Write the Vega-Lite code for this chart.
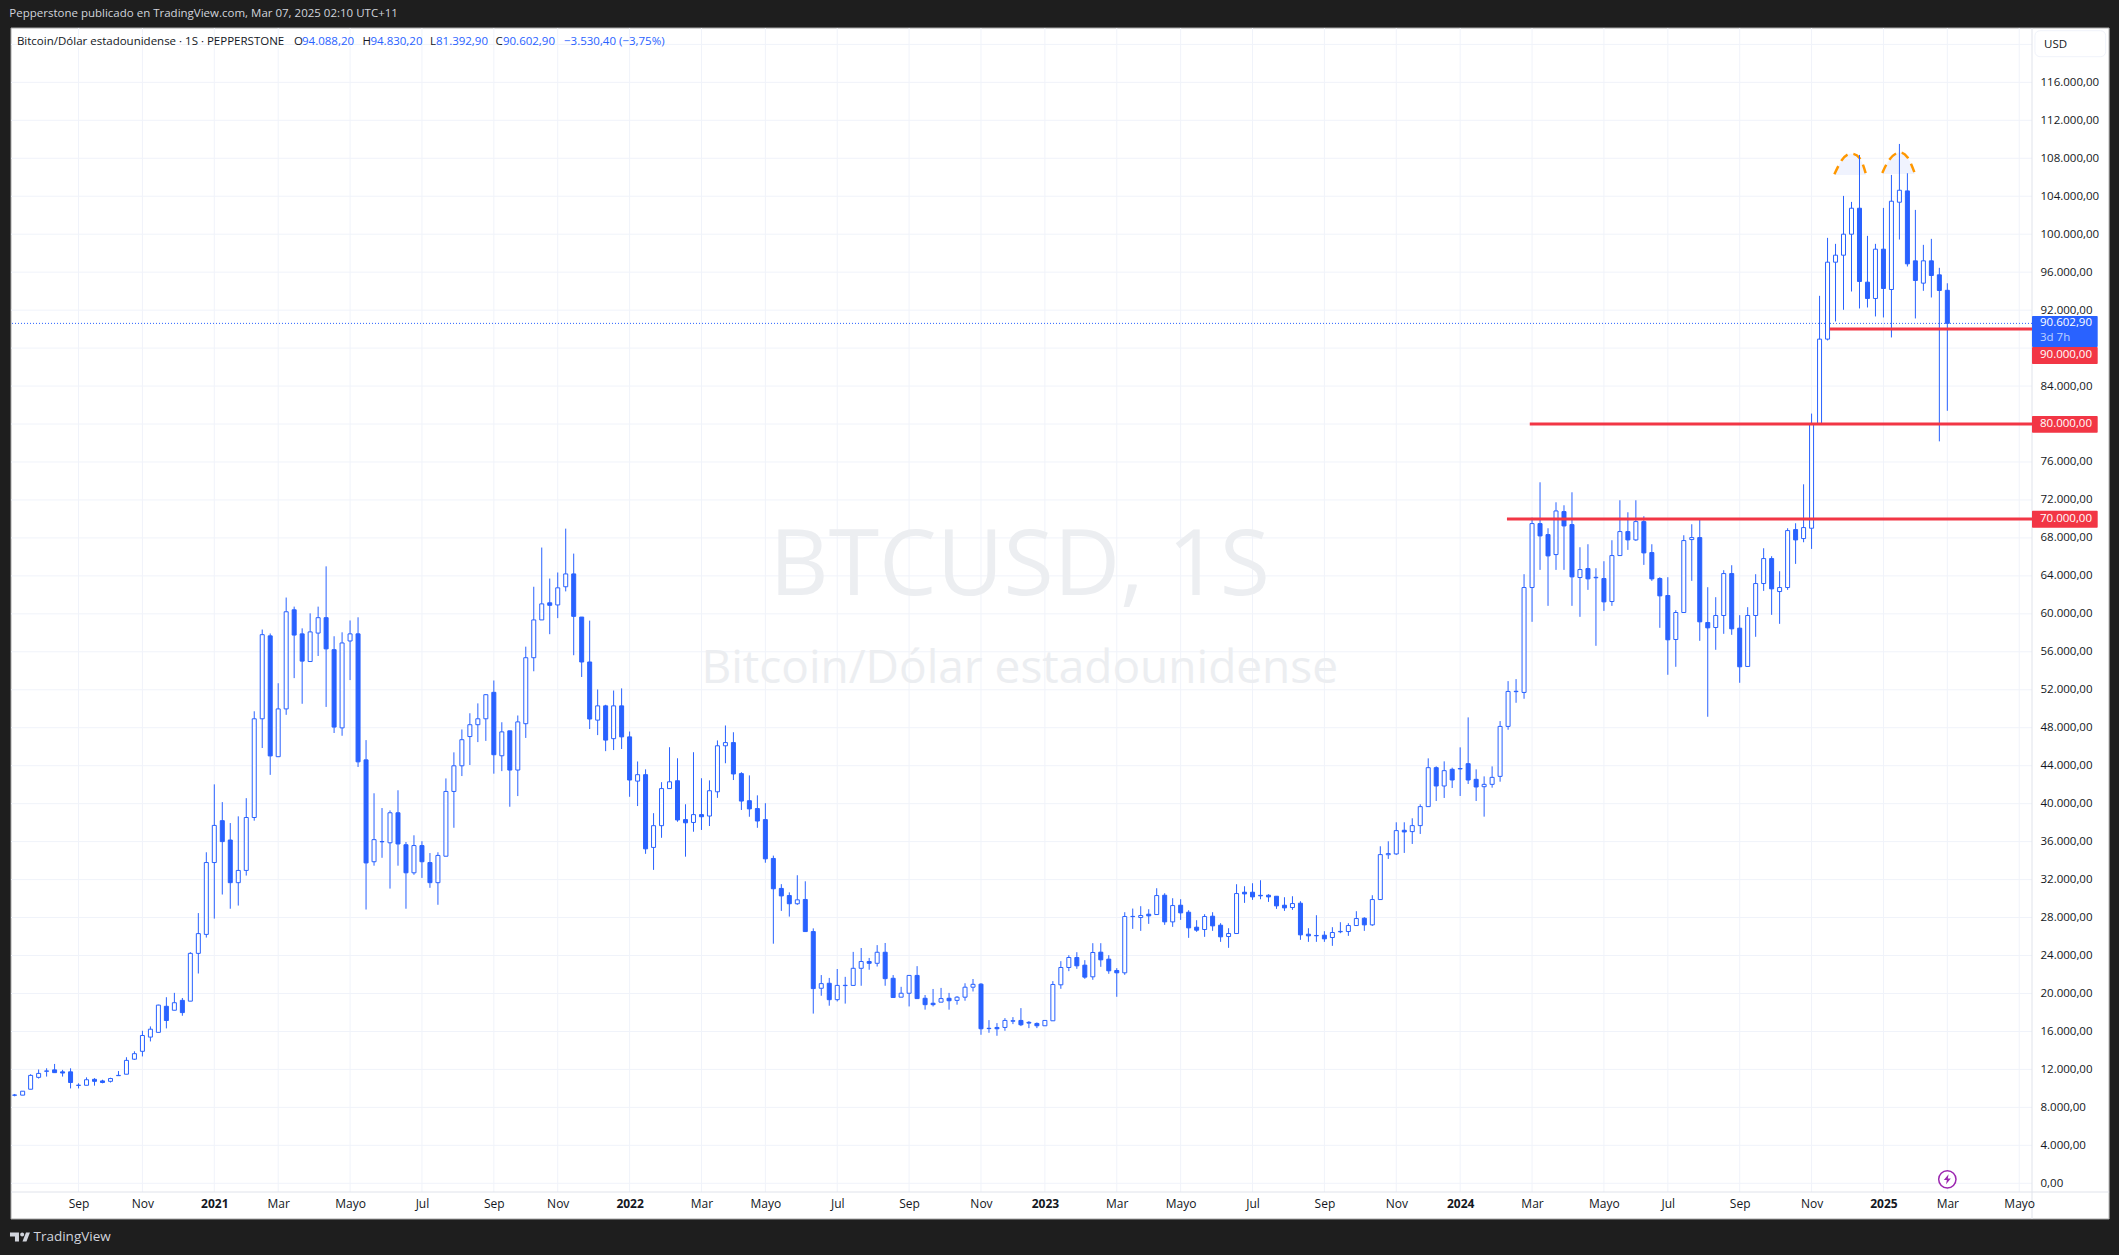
{"$schema":"https://vega.github.io/schema/vega-lite/v6.json","width":2021,"height":1164,"autosize":"none","padding":{"left":11,"top":28,"right":87,"bottom":63},"background":"#1e1e1e","config":{"view":{"stroke":null},"font":"Open Sans","scale":{"continuousPadding":0}},
"datasets":{"candles":[
{"d":"2020-07-13","o":9280,"h":9413,"l":9163,"c":9300},{"d":"2020-07-20","o":9288,"h":9704,"l":9288,"c":9704},{"d":"2020-07-27","o":9912,"h":11493,"l":9912,"c":11369},{"d":"2020-08-03","o":11161,"h":11993,"l":11036,"c":11577},{"d":"2020-08-10","o":11800,"h":12118,"l":11244,"c":11840},{"d":"2020-08-17","o":11951,"h":12575,"l":11660,"c":11660},{"d":"2020-08-24","o":11743,"h":11951,"l":11244,"c":11618},{"d":"2020-08-31","o":11743,"h":12118,"l":9995,"c":10620},{"d":"2020-09-07","o":10310,"h":10536,"l":9995,"c":10340},{"d":"2020-09-14","o":10328,"h":11161,"l":10328,"c":10911},{"d":"2020-09-21","o":10953,"h":11077,"l":10287,"c":10744},{"d":"2020-09-28","o":10786,"h":10911,"l":10536,"c":10620},{"d":"2020-10-05","o":10744,"h":11119,"l":10620,"c":11036},{"d":"2020-10-12","o":11340,"h":11826,"l":11340,"c":11370},{"d":"2020-10-19","o":11493,"h":13283,"l":11493,"c":12950},{"d":"2020-10-26","o":13075,"h":13907,"l":12992,"c":13657},{"d":"2020-11-02","o":13907,"h":16071,"l":13366,"c":15571},{"d":"2020-11-09","o":15405,"h":16528,"l":14947,"c":16237},{"d":"2020-11-16","o":15904,"h":18817,"l":15904,"c":18775},{"d":"2020-11-23","o":18650,"h":19607,"l":16320,"c":17152},{"d":"2020-11-30","o":18234,"h":20065,"l":18234,"c":19025},{"d":"2020-12-07","o":19275,"h":19524,"l":17652,"c":17985},{"d":"2020-12-14","o":19191,"h":24351,"l":19191,"c":24226},{"d":"2020-12-21","o":24226,"h":28470,"l":22104,"c":26307},{"d":"2020-12-28","o":26224,"h":34878,"l":25891,"c":33796},
{"d":"2021-01-04","o":33796,"h":42035,"l":27888,"c":37708},{"d":"2021-01-11","o":38207,"h":40162,"l":30426,"c":36002},{"d":"2021-01-18","o":36169,"h":37957,"l":28928,"c":31674},{"d":"2021-01-25","o":31674,"h":38665,"l":29261,"c":32965},{"d":"2021-02-01","o":32965,"h":40579,"l":32423,"c":38540},{"d":"2021-02-08","o":38540,"h":49733,"l":38207,"c":48942},{"d":"2021-02-15","o":48942,"h":58346,"l":45863,"c":57805},{"d":"2021-02-22","o":57680,"h":57930,"l":43034,"c":45031},{"d":"2021-03-01","o":44948,"h":52687,"l":44948,"c":49983},{"d":"2021-03-08","o":49983,"h":61717,"l":49358,"c":60219},{"d":"2021-03-15","o":60427,"h":60760,"l":53228,"c":57764},{"d":"2021-03-22","o":57889,"h":58471,"l":50524,"c":55018},{"d":"2021-03-29","o":54976,"h":60052,"l":54976,"c":58097},{"d":"2021-04-05","o":57972,"h":60760,"l":55558,"c":59595},{"d":"2021-04-12","o":59595,"h":65004,"l":50191,"c":56307},{"d":"2021-04-19","o":56224,"h":57639,"l":47444,"c":48069},{"d":"2021-04-26","o":47985,"h":58055,"l":47153,"c":56931},{"d":"2021-05-03","o":57140,"h":59303,"l":53020,"c":57889},{"d":"2021-05-10","o":57889,"h":59636,"l":43866,"c":44406},{"d":"2021-05-17","o":44614,"h":46696,"l":28845,"c":33755},{"d":"2021-05-24","o":33880,"h":41095,"l":33463,"c":36210},{"d":"2021-05-31","o":35980,"h":39538,"l":34295,"c":36010},{"d":"2021-06-07","o":35877,"h":39288,"l":31050,"c":39039},{"d":"2021-06-14","o":39039,"h":41411,"l":33463,"c":35752},{"d":"2021-06-21","o":35669,"h":35960,"l":28928,"c":32714},{"d":"2021-06-28","o":32714,"h":36668,"l":32506,"c":35586},{"d":"2021-07-05","o":35586,"h":36043,"l":32174,"c":33880},{"d":"2021-07-12","o":33796,"h":34795,"l":31132,"c":31674},{"d":"2021-07-19","o":31674,"h":34878,"l":29344,"c":34546},{"d":"2021-07-26","o":34462,"h":42659,"l":34462,"c":41286},{"d":"2021-08-02","o":41286,"h":45406,"l":37458,"c":43990},{"d":"2021-08-09","o":43990,"h":47819,"l":42909,"c":46737},{"d":"2021-08-16","o":47070,"h":49525,"l":44074,"c":48318},{"d":"2021-08-23","o":48318,"h":50565,"l":46487,"c":48942},{"d":"2021-08-30","o":48942,"h":51540,"l":46612,"c":51480},{"d":"2021-09-06","o":51730,"h":52978,"l":43158,"c":45156},{"d":"2021-09-13","o":45045,"h":48576,"l":43429,"c":47562},{"d":"2021-09-20","o":47675,"h":47675,"l":39673,"c":43542},{"d":"2021-09-27","o":43542,"h":49290,"l":40799,"c":48614},{"d":"2021-10-04","o":48426,"h":56541,"l":46923,"c":55377},{"d":"2021-10-11","o":55377,"h":62853,"l":53949,"c":59359},{"d":"2021-10-18","o":59359,"h":66986,"l":59359,"c":61049},{"d":"2021-10-25","o":61162,"h":63717,"l":57856,"c":60899},{"d":"2021-11-01","o":60937,"h":64356,"l":59547,"c":62740},{"d":"2021-11-08","o":62853,"h":68977,"l":62365,"c":64206},{"d":"2021-11-15","o":64206,"h":66347,"l":55640,"c":59735},{"d":"2021-11-22","o":59660,"h":59660,"l":53347,"c":54926},{"d":"2021-11-29","o":54926,"h":59284,"l":47862,"c":48915},{"d":"2021-12-06","o":48802,"h":52033,"l":47224,"c":50304},{"d":"2021-12-13","o":50304,"h":50417,"l":45533,"c":46698},{"d":"2021-12-20","o":46848,"h":51920,"l":45646,"c":50304},{"d":"2021-12-27","o":50304,"h":52146,"l":45759,"c":47036},
{"d":"2022-01-03","o":47036,"h":47600,"l":40724,"c":42490},{"d":"2022-01-10","o":42377,"h":44444,"l":39748,"c":43054},{"d":"2022-01-17","o":43054,"h":43617,"l":34713,"c":35239},{"d":"2022-01-24","o":35389,"h":38996,"l":33022,"c":37680},{"d":"2022-01-31","o":37680,"h":42265,"l":36403,"c":41588},{"d":"2022-02-07","o":41588,"h":45946,"l":41588,"c":42302},{"d":"2022-02-14","o":42415,"h":44782,"l":38094,"c":38282},{"d":"2022-02-21","o":38320,"h":39935,"l":34413,"c":37982},{"d":"2022-02-28","o":38019,"h":45421,"l":37043,"c":38846},{"d":"2022-03-07","o":38846,"h":42678,"l":37231,"c":38621},{"d":"2022-03-14","o":38696,"h":42452,"l":37644,"c":41363},{"d":"2022-03-21","o":41251,"h":46660,"l":40612,"c":46097},{"d":"2022-03-28","o":46097,"h":48238,"l":44256,"c":46435},{"d":"2022-04-04","o":46435,"h":47524,"l":42490,"c":43129},{"d":"2022-04-11","o":43166,"h":43317,"l":39334,"c":40274},{"d":"2022-04-18","o":40311,"h":42978,"l":38620,"c":39448},{"d":"2022-04-25","o":39484,"h":40875,"l":37456,"c":38170},{"d":"2022-05-02","o":38320,"h":40047,"l":33774,"c":34187},{"d":"2022-05-09","o":34225,"h":34525,"l":25245,"c":31032},{"d":"2022-05-16","o":31069,"h":31520,"l":28701,"c":30280},{"d":"2022-05-23","o":30317,"h":30656,"l":28100,"c":29453},{"d":"2022-05-30","o":29453,"h":32458,"l":29340,"c":29867},{"d":"2022-06-06","o":29904,"h":31820,"l":26523,"c":26523},{"d":"2022-06-13","o":26523,"h":26860,"l":17882,"c":20513},{"d":"2022-06-20","o":20549,"h":21939,"l":19760,"c":21037},{"d":"2022-06-27","o":21075,"h":21639,"l":18709,"c":19347},{"d":"2022-07-04","o":19347,"h":22578,"l":19160,"c":20849},{"d":"2022-07-11","o":20830,"h":21751,"l":18933,"c":20860},{"d":"2022-07-18","o":20849,"h":24381,"l":20849,"c":22653},{"d":"2022-07-25","o":22653,"h":24793,"l":20812,"c":23367},{"d":"2022-08-01","o":23367,"h":23743,"l":22503,"c":23179},{"d":"2022-08-08","o":23179,"h":25096,"l":22840,"c":24343},{"d":"2022-08-15","o":24343,"h":25320,"l":20812,"c":21563},{"d":"2022-08-22","o":21600,"h":21939,"l":19573,"c":19573},{"d":"2022-08-29","o":19610,"h":20700,"l":19610,"c":20023},{"d":"2022-09-05","o":20023,"h":21902,"l":18633,"c":21902},{"d":"2022-09-12","o":21902,"h":22880,"l":19460,"c":19460},{"d":"2022-09-19","o":19497,"h":19835,"l":18295,"c":18821},{"d":"2022-09-26","o":18971,"h":20474,"l":18633,"c":18821},{"d":"2022-10-03","o":19084,"h":20587,"l":19084,"c":19460},{"d":"2022-10-10","o":19497,"h":20061,"l":18295,"c":19234},{"d":"2022-10-17","o":19272,"h":19723,"l":18821,"c":19610},{"d":"2022-10-24","o":19610,"h":21077,"l":19234,"c":20662},{"d":"2022-10-31","o":20662,"h":21525,"l":20211,"c":20963},{"d":"2022-11-07","o":20983,"h":21088,"l":15649,"c":16281},{"d":"2022-11-14","o":16300,"h":17193,"l":15860,"c":16330},{"d":"2022-11-21","o":16421,"h":16878,"l":15544,"c":16281},{"d":"2022-11-28","o":16421,"h":17404,"l":16070,"c":17158},{"d":"2022-12-05","o":17080,"h":17509,"l":16772,"c":17130},{"d":"2022-12-12","o":17158,"h":18457,"l":16562,"c":16702},{"d":"2022-12-19","o":16960,"h":17088,"l":16351,"c":16880},{"d":"2022-12-26","o":16842,"h":16948,"l":16351,"c":16597},
{"d":"2023-01-02","o":16597,"h":17158,"l":16597,"c":17158},{"d":"2023-01-09","o":17123,"h":21299,"l":17123,"c":20948},{"d":"2023-01-16","o":20913,"h":23404,"l":20492,"c":22738},{"d":"2023-01-23","o":22738,"h":24036,"l":22352,"c":23790},{"d":"2023-01-30","o":23790,"h":24352,"l":22597,"c":22913},{"d":"2023-02-06","o":22983,"h":23510,"l":21544,"c":21720},{"d":"2023-02-13","o":21755,"h":25299,"l":21439,"c":24317},{"d":"2023-02-20","o":24352,"h":25299,"l":22808,"c":23545},{"d":"2023-02-27","o":23615,"h":24036,"l":22071,"c":22387},{"d":"2023-03-06","o":22422,"h":22668,"l":19650,"c":22176},{"d":"2023-03-13","o":22176,"h":28562,"l":21966,"c":28106},{"d":"2023-03-20","o":28100,"h":28948,"l":26808,"c":28120},{"d":"2023-03-27","o":28001,"h":29194,"l":26597,"c":28212},{"d":"2023-04-03","o":28352,"h":28878,"l":27334,"c":28176},{"d":"2023-04-10","o":28317,"h":31089,"l":28317,"c":30317},{"d":"2023-04-17","o":30352,"h":30563,"l":27229,"c":27545},{"d":"2023-04-24","o":27545,"h":30036,"l":27019,"c":29264},{"d":"2023-05-01","o":29299,"h":29931,"l":27755,"c":28492},{"d":"2023-05-08","o":28562,"h":28773,"l":25861,"c":26913},{"d":"2023-05-15","o":26983,"h":27720,"l":26492,"c":26668},{"d":"2023-05-22","o":26738,"h":28352,"l":25966,"c":28106},{"d":"2023-05-29","o":28141,"h":28562,"l":26597,"c":27124},{"d":"2023-06-05","o":27194,"h":27405,"l":25439,"c":25966},{"d":"2023-06-12","o":26001,"h":26878,"l":24808,"c":26317},{"d":"2023-06-19","o":26317,"h":31510,"l":26317,"c":30528},{"d":"2023-06-26","o":30668,"h":31300,"l":29545,"c":30492},{"d":"2023-07-03","o":30668,"h":31615,"l":29861,"c":30177},{"d":"2023-07-10","o":30340,"h":31931,"l":29931,"c":30290},{"d":"2023-07-17","o":30352,"h":30457,"l":29650,"c":30177},{"d":"2023-07-24","o":30247,"h":30247,"l":28913,"c":29229},{"d":"2023-07-31","o":29299,"h":30142,"l":28703,"c":29019},{"d":"2023-08-07","o":29054,"h":30247,"l":28808,"c":29475},{"d":"2023-08-14","o":29510,"h":29720,"l":25650,"c":26176},{"d":"2023-08-21","o":26247,"h":26878,"l":25439,"c":26071},{"d":"2023-08-28","o":26080,"h":28247,"l":25439,"c":26110},{"d":"2023-09-04","o":26141,"h":26562,"l":25439,"c":25755},{"d":"2023-09-11","o":25896,"h":26983,"l":25018,"c":26422},{"d":"2023-09-18","o":26500,"h":27510,"l":26352,"c":26540},{"d":"2023-09-25","o":26527,"h":27405,"l":26071,"c":27159},{"d":"2023-10-02","o":27159,"h":28668,"l":27159,"c":27896},{"d":"2023-10-09","o":27931,"h":28036,"l":26597,"c":27229},{"d":"2023-10-16","o":27229,"h":30352,"l":27124,"c":29896},{"d":"2023-10-23","o":29896,"h":35510,"l":29896,"c":34633},{"d":"2023-10-30","o":34620,"h":36037,"l":34177,"c":34740},{"d":"2023-11-06","o":34703,"h":38037,"l":34598,"c":37160},{"d":"2023-11-13","o":37195,"h":38037,"l":34809,"c":37019},{"d":"2023-11-20","o":37054,"h":38458,"l":35756,"c":37686},{"d":"2023-11-27","o":37686,"h":39932,"l":36809,"c":39686},{"d":"2023-12-04","o":39686,"h":44774,"l":39686,"c":43792},{"d":"2023-12-11","o":43792,"h":43932,"l":40283,"c":41862},{"d":"2023-12-18","o":41862,"h":44458,"l":40598,"c":43476},{"d":"2023-12-25","o":43616,"h":43792,"l":41651,"c":42493},
{"d":"2024-01-01","o":43660,"h":45932,"l":40809,"c":43700},{"d":"2024-01-08","o":44213,"h":49090,"l":42072,"c":42493},{"d":"2024-01-15","o":42563,"h":43616,"l":40283,"c":41756},{"d":"2024-01-22","o":41788,"h":42875,"l":38629,"c":42033},{"d":"2024-01-29","o":42033,"h":43928,"l":41682,"c":42770},{"d":"2024-02-05","o":42875,"h":48700,"l":42314,"c":48139},{"d":"2024-02-12","o":48139,"h":52911,"l":47788,"c":51823},{"d":"2024-02-19","o":51800,"h":53122,"l":50630,"c":51840},{"d":"2024-02-26","o":51718,"h":64175,"l":51051,"c":62771},{"d":"2024-03-04","o":62771,"h":70140,"l":59157,"c":69509},{"d":"2024-03-11","o":69509,"h":73860,"l":64631,"c":68210},{"d":"2024-03-18","o":68351,"h":69017,"l":60841,"c":66105},{"d":"2024-03-25","o":66245,"h":71754,"l":64631,"c":70842},{"d":"2024-04-01","o":70772,"h":71439,"l":64631,"c":69263},{"d":"2024-04-08","o":69403,"h":72807,"l":60841,"c":63894},{"d":"2024-04-15","o":63824,"h":67017,"l":59683,"c":64666},{"d":"2024-04-22","o":64771,"h":67333,"l":62526,"c":63684},{"d":"2024-04-29","o":63800,"h":64807,"l":56631,"c":63850},{"d":"2024-05-06","o":63719,"h":65543,"l":60315,"c":61262},{"d":"2024-05-13","o":61298,"h":67754,"l":60841,"c":66140},{"d":"2024-05-20","o":66140,"h":71965,"l":66140,"c":68667},{"d":"2024-05-27","o":68667,"h":70702,"l":66737,"c":67789},{"d":"2024-06-03","o":67789,"h":71965,"l":67684,"c":69719},{"d":"2024-06-10","o":69719,"h":70281,"l":65157,"c":66421},{"d":"2024-06-17","o":66456,"h":67333,"l":63473,"c":63684},{"d":"2024-06-24","o":63719,"h":63859,"l":58525,"c":61894},{"d":"2024-07-01","o":61929,"h":63859,"l":53578,"c":57262},{"d":"2024-07-08","o":57297,"h":60385,"l":54420,"c":60140},{"d":"2024-07-15","o":60140,"h":68280,"l":60140,"c":67719},{"d":"2024-07-22","o":67824,"h":69438,"l":63473,"c":68035},{"d":"2024-07-29","o":68035,"h":70035,"l":57157,"c":59157},{"d":"2024-08-05","o":59087,"h":62806,"l":49156,"c":58525},{"d":"2024-08-12","o":58561,"h":61754,"l":56210,"c":59824},{"d":"2024-08-19","o":59824,"h":64596,"l":57894,"c":64245},{"d":"2024-08-26","o":64245,"h":65122,"l":57789,"c":58420},{"d":"2024-09-02","o":58490,"h":59859,"l":52736,"c":54420},{"d":"2024-09-09","o":54455,"h":60701,"l":54455,"c":59824},{"d":"2024-09-16","o":59824,"h":64175,"l":57578,"c":63192},{"d":"2024-09-23","o":63192,"h":66912,"l":62420,"c":65824},{"d":"2024-09-30","o":65824,"h":66070,"l":59894,"c":62631},{"d":"2024-10-07","o":62350,"h":64491,"l":58947,"c":62771},{"d":"2024-10-14","o":62771,"h":69017,"l":62526,"c":68772},{"d":"2024-10-21","o":68877,"h":69544,"l":65263,"c":67789},{"d":"2024-10-28","o":67930,"h":73649,"l":67544,"c":69088},{"d":"2024-11-04","o":69020,"h":81100,"l":66841,"c":80000},{"d":"2024-11-11","o":79964,"h":93508,"l":79964,"c":88946},{"d":"2024-11-18","o":88946,"h":99614,"l":88806,"c":97052},{"d":"2024-11-25","o":97052,"h":98982,"l":90806,"c":97789},{"d":"2024-12-02","o":97789,"h":104035,"l":92034,"c":100000},{"d":"2024-12-09","o":100000,"h":103404,"l":93964,"c":102737},{"d":"2024-12-16","o":102737,"h":108351,"l":92175,"c":95017},{"d":"2024-12-23","o":94947,"h":99824,"l":92280,"c":93227},{"d":"2024-12-30","o":93227,"h":98982,"l":91333,"c":98421},
{"d":"2025-01-06","o":98421,"h":102772,"l":91228,"c":94280},{"d":"2025-01-13","o":94175,"h":106246,"l":89122,"c":103474},{"d":"2025-01-20","o":103369,"h":109509,"l":99438,"c":104631},{"d":"2025-01-27","o":104561,"h":106421,"l":96596,"c":96877},{"d":"2025-02-03","o":97193,"h":102561,"l":91122,"c":95122},{"d":"2025-02-10","o":94842,"h":98877,"l":94035,"c":97193},{"d":"2025-02-17","o":97193,"h":99508,"l":93333,"c":95649},{"d":"2025-02-24","o":95719,"h":96456,"l":78174,"c":94070},{"d":"2025-03-03","o":94088.2,"h":94830.2,"l":81392.9,"c":90602.9}
]},
"layer":[
{"data":{"values":[{"a":"2020-07-09T19:12:00Z","b":"2025-07-22T19:00:00Z","p":121726,"q":-3761}]},"mark":{"type":"rect","fill":"#ffffff","stroke":"#a8a8a8","strokeWidth":1},"encoding":{"x":{"field":"a","type":"temporal","scale":{"type":"utc","nice":false,"domain":["2020-07-09T19:12:00Z","2025-05-16T05:00:00Z"]},"axis":{"orient":"bottom","title":null,"grid":false,"domain":false,"ticks":false,"zindex":1,"values":["2020-09-07","2020-11-02","2021-01-04","2021-03-01","2021-05-03","2021-07-05","2021-09-06","2021-11-01","2022-01-03","2022-03-07","2022-05-02","2022-07-04","2022-09-05","2022-11-07","2023-01-02","2023-03-06","2023-05-01","2023-07-03","2023-09-04","2023-11-06","2024-01-01","2024-03-04","2024-05-06","2024-07-01","2024-09-02","2024-11-04","2025-01-06","2025-03-03","2025-05-05"],"labelExpr":"utcmonth(datum.value)==0 ? ''+utcyear(datum.value) : (utcmonth(datum.value)==2 ? 'Mar' : utcmonth(datum.value)==4 ? 'Mayo' : utcmonth(datum.value)==6 ? 'Jul' : utcmonth(datum.value)==8 ? 'Sep' : 'Nov')","labelFontWeight":{"condition":{"test":"utcmonth(datum.value)==0","value":"bold"},"value":"normal"},"labelColor":"#131722","labelFontSize":12,"labelFont":"Open Sans","labelPadding":6,"labelOverlap":false,"labelFlush":false,"labelBound":false}},"x2":{"field":"b"},"y":{"field":"p","type":"quantitative","scale":{"domain":[-917,121726],"nice":false,"zero":false},"axis":{"orient":"right","title":null,"grid":false,"domain":false,"ticks":false,"zindex":1,"values":[0,4000,8000,12000,16000,20000,24000,28000,32000,36000,40000,44000,48000,52000,56000,60000,64000,68000,72000,76000,84000,92000,96000,100000,104000,108000,112000,116000],"labelExpr":"datum.value==0 ? '0,00' : (datum.value/1000)+'.000,00'","labelColor":"#131722","labelFontSize":11.5,"labelFont":"Open Sans","labelPadding":8,"labelOverlap":false,"labelBound":false,"labelFlush":false}},"y2":{"field":"q"}}},
{"data":{"values":[{"p":0},{"p":4000},{"p":8000},{"p":12000},{"p":16000},{"p":20000},{"p":24000},{"p":28000},{"p":32000},{"p":36000},{"p":40000},{"p":44000},{"p":48000},{"p":52000},{"p":56000},{"p":60000},{"p":64000},{"p":68000},{"p":72000},{"p":76000},{"p":80000},{"p":84000},{"p":88000},{"p":92000},{"p":96000},{"p":100000},{"p":104000},{"p":108000},{"p":112000},{"p":116000},{"p":120000}]},"mark":{"type":"rule","color":"#f0f3fa","strokeWidth":1},"encoding":{"y":{"field":"p","type":"quantitative","scale":{"domain":[-917,121726],"nice":false,"zero":false}}}},
{"data":{"values":[{"d":"2020-09-07"},{"d":"2020-11-02"},{"d":"2021-01-04"},{"d":"2021-03-01"},{"d":"2021-05-03"},{"d":"2021-07-05"},{"d":"2021-09-06"},{"d":"2021-11-01"},{"d":"2022-01-03"},{"d":"2022-03-07"},{"d":"2022-05-02"},{"d":"2022-07-04"},{"d":"2022-09-05"},{"d":"2022-11-07"},{"d":"2023-01-02"},{"d":"2023-03-06"},{"d":"2023-05-01"},{"d":"2023-07-03"},{"d":"2023-09-04"},{"d":"2023-11-06"},{"d":"2024-01-01"},{"d":"2024-03-04"},{"d":"2024-05-06"},{"d":"2024-07-01"},{"d":"2024-09-02"},{"d":"2024-11-04"},{"d":"2025-01-06"},{"d":"2025-03-03"},{"d":"2025-05-05"}]},"mark":{"type":"rule","color":"#f0f3fa","strokeWidth":1},"encoding":{"x":{"field":"d","type":"temporal","scale":{"type":"utc","nice":false,"domain":["2020-07-09T19:12:00Z","2025-05-16T05:00:00Z"]}}}},
{"data":{"values":[{"a":"2020-07-09T19:12:00Z","b":"2025-07-22T19:00:00Z","p":-917,"q":-917},{"a":"2025-05-16T05:00:00Z","b":"2025-05-16T05:00:00Z","p":121726,"q":-3761}]},"mark":{"type":"rule","color":"#e0e3eb","strokeWidth":1},"encoding":{"x":{"field":"a","type":"temporal","scale":{"type":"utc","nice":false,"domain":["2020-07-09T19:12:00Z","2025-05-16T05:00:00Z"]}},"x2":{"field":"b"},"y":{"field":"p","type":"quantitative","scale":{"domain":[-917,121726],"nice":false,"zero":false}},"y2":{"field":"q"}}},
{"data":{"values":[{"t":"BTCUSD, 1S","d":"2022-12-11","p":64790}]},"mark":{"type":"text","fontSize":91.5,"color":"#eceef1","align":"center","baseline":"middle"},"encoding":{"text":{"field":"t"},"x":{"field":"d","type":"temporal","scale":{"type":"utc","nice":false,"domain":["2020-07-09T19:12:00Z","2025-05-16T05:00:00Z"]}},"y":{"field":"p","type":"quantitative","scale":{"domain":[-917,121726],"nice":false,"zero":false}}}},
{"data":{"values":[{"t":"Bitcoin/Dólar estadounidense","d":"2022-12-11","p":54200}]},"mark":{"type":"text","fontSize":46,"color":"#eceef1","align":"center","baseline":"middle"},"encoding":{"text":{"field":"t"},"x":{"field":"d","type":"temporal","scale":{"type":"utc","nice":false,"domain":["2020-07-09T19:12:00Z","2025-05-16T05:00:00Z"]}},"y":{"field":"p","type":"quantitative","scale":{"domain":[-917,121726],"nice":false,"zero":false}}}},
{"data":{"values":[{"p":90602.9}]},"mark":{"type":"rule","color":"#2962ff","strokeWidth":1,"strokeDash":[1,2]},"encoding":{"y":{"field":"p","type":"quantitative","scale":{"domain":[-917,121726],"nice":false,"zero":false}}}},
{"data":{"name":"arcs","values":[{"g":"a","d":"2024-11-24","p":106316,"b":106250},{"g":"a","d":"2024-11-30","p":107720,"b":106250},{"g":"a","d":"2024-12-07","p":108456,"b":106250},{"g":"a","d":"2024-12-16","p":108035,"b":106250},{"g":"a","d":"2024-12-22","p":106176,"b":106250},{"g":"b","d":"2025-01-05","p":106456,"b":106350},{"g":"b","d":"2025-01-11","p":107825,"b":106350},{"g":"b","d":"2025-01-19","p":108597,"b":106350},{"g":"b","d":"2025-01-27","p":108106,"b":106350},{"g":"b","d":"2025-02-03","p":106246,"b":106350}]},"mark":{"type":"area","color":"#f0f3fe","interpolate":"natural"},"encoding":{"detail":{"field":"g"},"x":{"field":"d","type":"temporal","scale":{"type":"utc","nice":false,"domain":["2020-07-09T19:12:00Z","2025-05-16T05:00:00Z"]}},"y":{"field":"p","type":"quantitative","scale":{"domain":[-917,121726],"nice":false,"zero":false}},"y2":{"field":"b"}}},
{"data":{"name":"arcs"},"mark":{"type":"line","color":"#ff9800","strokeWidth":2.5,"strokeDash":[9,6],"interpolate":"natural"},"encoding":{"detail":{"field":"g"},"x":{"field":"d","type":"temporal","scale":{"type":"utc","nice":false,"domain":["2020-07-09T19:12:00Z","2025-05-16T05:00:00Z"]}},"y":{"field":"p","type":"quantitative","scale":{"domain":[-917,121726],"nice":false,"zero":false}}}},
{"data":{"name":"candles"},"mark":{"type":"rule","color":"#2962ff","strokeWidth":1},"encoding":{"x":{"field":"d","type":"temporal","scale":{"type":"utc","nice":false,"domain":["2020-07-09T19:12:00Z","2025-05-16T05:00:00Z"]}},"y":{"field":"l","type":"quantitative","scale":{"domain":[-917,121726],"nice":false,"zero":false}},"y2":{"field":"h"}}},
{"data":{"name":"candles"},"mark":{"type":"bar","size":4,"stroke":"#2962ff","strokeWidth":1},"encoding":{"x":{"field":"d","type":"temporal","scale":{"type":"utc","nice":false,"domain":["2020-07-09T19:12:00Z","2025-05-16T05:00:00Z"]}},"y":{"field":"o","type":"quantitative","scale":{"domain":[-917,121726],"nice":false,"zero":false}},"y2":{"field":"c"},"fill":{"condition":{"test":"datum.c>=datum.o","value":"#ffffff"},"value":"#2962ff"}}},
{"data":{"values":[{"a":"2024-02-11","b":"2025-05-16T05:00:00Z","p":70000},{"a":"2024-03-02","b":"2025-05-16T05:00:00Z","p":80000},{"a":"2024-11-20","b":"2025-05-16T05:00:00Z","p":90000}]},"mark":{"type":"rule","color":"#f23645","strokeWidth":3},"encoding":{"x":{"field":"a","type":"temporal","scale":{"type":"utc","nice":false,"domain":["2020-07-09T19:12:00Z","2025-05-16T05:00:00Z"]}},"x2":{"field":"b"},"y":{"field":"p","type":"quantitative","scale":{"domain":[-917,121726],"nice":false,"zero":false}}}},
{"data":{"values":[{"a":"2025-05-16T05:00:00Z","b":"2025-07-12T19:00:00Z","p":88115,"q":86324},{"a":"2025-05-16T05:00:00Z","b":"2025-07-12T19:00:00Z","p":80845,"q":79086},{"a":"2025-05-16T05:00:00Z","b":"2025-07-12T19:00:00Z","p":70867,"q":69076}]},"mark":{"type":"rect","fill":"#f23645","cornerRadius":1},"encoding":{"x":{"field":"a","type":"temporal","scale":{"type":"utc","nice":false,"domain":["2020-07-09T19:12:00Z","2025-05-16T05:00:00Z"]}},"x2":{"field":"b"},"y":{"field":"p","type":"quantitative","scale":{"domain":[-917,121726],"nice":false,"zero":false}},"y2":{"field":"q"}}},
{"data":{"values":[{"a":"2025-05-16T05:00:00Z","b":"2025-07-12T19:00:00Z","p":91381,"q":88115}]},"mark":{"type":"rect","fill":"#2962ff","cornerRadius":1},"encoding":{"x":{"field":"a","type":"temporal","scale":{"type":"utc","nice":false,"domain":["2020-07-09T19:12:00Z","2025-05-16T05:00:00Z"]}},"x2":{"field":"b"},"y":{"field":"p","type":"quantitative","scale":{"domain":[-917,121726],"nice":false,"zero":false}},"y2":{"field":"q"}}},
{"data":{"values":[{"a":"2025-05-18T19:00:00Z","b":"2025-07-19T19:00:00Z","p":121441,"q":118702}]},"mark":{"type":"rect","fill":"#ffffff","stroke":"#f0f3fa","strokeWidth":1,"cornerRadius":5},"encoding":{"x":{"field":"a","type":"temporal","scale":{"type":"utc","nice":false,"domain":["2020-07-09T19:12:00Z","2025-05-16T05:00:00Z"]}},"x2":{"field":"b"},"y":{"field":"p","type":"quantitative","scale":{"domain":[-917,121726],"nice":false,"zero":false}},"y2":{"field":"q"}}},
{"data":{"values":[{"t":"90.602,90","d":"2025-05-23T05:00:00Z","p":90602},{"t":"90.000,00","d":"2025-05-23T05:00:00Z","p":87220},{"t":"80.000,00","d":"2025-05-23T05:00:00Z","p":79960},{"t":"70.000,00","d":"2025-05-23T05:00:00Z","p":69970}]},"mark":{"type":"text","fontSize":11.5,"color":"#ffffff","align":"left","baseline":"middle"},"encoding":{"text":{"field":"t"},"x":{"field":"d","type":"temporal","scale":{"type":"utc","nice":false,"domain":["2020-07-09T19:12:00Z","2025-05-16T05:00:00Z"]}},"y":{"field":"p","type":"quantitative","scale":{"domain":[-917,121726],"nice":false,"zero":false}}}},
{"data":{"values":[{"t":"3d 7h","d":"2025-05-23T05:00:00Z","p":89061}]},"mark":{"type":"text","fontSize":11.5,"color":"#bcd0ff","align":"left","baseline":"middle"},"encoding":{"text":{"field":"t"},"x":{"field":"d","type":"temporal","scale":{"type":"utc","nice":false,"domain":["2020-07-09T19:12:00Z","2025-05-16T05:00:00Z"]}},"y":{"field":"p","type":"quantitative","scale":{"domain":[-917,121726],"nice":false,"zero":false}}}},
{"data":{"values":[{"t":"Bitcoin/Dólar estadounidense · 1S · PEPPERSTONE","d":"2020-07-15","p":120300},{"t":"O","d":"2021-03-14T21:00:00Z","p":120300},{"t":"H","d":"2021-05-13T21:00:00Z","p":120300},{"t":"L","d":"2021-07-12","p":120300},{"t":"C","d":"2021-09-07T12:00:00Z","p":120300},{"t":"USD","d":"2025-05-26T19:00:00Z","p":119977}]},"mark":{"type":"text","fontSize":11.5,"color":"#131722","align":"left","baseline":"middle"},"encoding":{"text":{"field":"t"},"x":{"field":"d","type":"temporal","scale":{"type":"utc","nice":false,"domain":["2020-07-09T19:12:00Z","2025-05-16T05:00:00Z"]}},"y":{"field":"p","type":"quantitative","scale":{"domain":[-917,121726],"nice":false,"zero":false}}}},
{"data":{"values":[{"t":"94.088,20","d":"2021-03-21T21:00:00Z","p":120300},{"t":"94.830,20","d":"2021-05-20T21:00:00Z","p":120300},{"t":"81.392,90","d":"2021-07-17T07:00:00Z","p":120300},{"t":"90.602,90","d":"2021-09-14","p":120300},{"t":"−3.530,40 (−3,75%)","d":"2021-11-06T12:00:00Z","p":120300}]},"mark":{"type":"text","fontSize":11.5,"color":"#2962ff","align":"left","baseline":"middle"},"encoding":{"text":{"field":"t"},"x":{"field":"d","type":"temporal","scale":{"type":"utc","nice":false,"domain":["2020-07-09T19:12:00Z","2025-05-16T05:00:00Z"]}},"y":{"field":"p","type":"quantitative","scale":{"domain":[-917,121726],"nice":false,"zero":false}}}},
{"data":{"values":[{"t":"Pepperstone publicado en TradingView.com, Mar 07, 2025 02:10 UTC+11","d":"2020-07-08T08:00:00Z","p":123201}]},"mark":{"type":"text","fontSize":11.5,"color":"#d1d4dc","align":"left","baseline":"middle"},"encoding":{"text":{"field":"t"},"x":{"field":"d","type":"temporal","scale":{"type":"utc","nice":false,"domain":["2020-07-09T19:12:00Z","2025-05-16T05:00:00Z"]}},"y":{"field":"p","type":"quantitative","scale":{"domain":[-917,121726],"nice":false,"zero":false}}}},
{"data":{"values":[{"t":"TradingView","d":"2020-07-29T12:00:00Z","p":-5658}]},"mark":{"type":"text","fontSize":13.5,"color":"#d1d4dc","align":"left","baseline":"middle"},"encoding":{"text":{"field":"t"},"x":{"field":"d","type":"temporal","scale":{"type":"utc","nice":false,"domain":["2020-07-09T19:12:00Z","2025-05-16T05:00:00Z"]}},"y":{"field":"p","type":"quantitative","scale":{"domain":[-917,121726],"nice":false,"zero":false}}}},
{"data":{"values":[{"d":"2020-07-17T16:00:00Z","p":-5658}]},"mark":{"type":"point","filled":true,"fill":"#d1d4dc","opacity":1,"size":400,"shape":"M-1,-0.45 H-0.1 V0.45 H-0.5 V-0.05 H-1 Z M0.25,0.45 L0.6,-0.45 H1 L0.65,0.45 Z M0.02,-0.25 A0.2,0.2 0 1 1 0.42,-0.25 A0.2,0.2 0 1 1 0.02,-0.25 Z"},"encoding":{"x":{"field":"d","type":"temporal","scale":{"type":"utc","nice":false,"domain":["2020-07-09T19:12:00Z","2025-05-16T05:00:00Z"]}},"y":{"field":"p","type":"quantitative","scale":{"domain":[-917,121726],"nice":false,"zero":false}}}},
{"data":{"values":[{"d":"2025-03-03","p":421}]},"mark":{"type":"point","shape":"circle","filled":false,"fill":"#ffffff","stroke":"#9c27b0","strokeWidth":1.5,"opacity":1,"size":300},"encoding":{"x":{"field":"d","type":"temporal","scale":{"type":"utc","nice":false,"domain":["2020-07-09T19:12:00Z","2025-05-16T05:00:00Z"]}},"y":{"field":"p","type":"quantitative","scale":{"domain":[-917,121726],"nice":false,"zero":false}}}},
{"data":{"values":[{"d":"2025-03-03","p":421}]},"mark":{"type":"point","filled":true,"fill":"#9c27b0","opacity":1,"size":100,"shape":"M0.25,-1 L-0.7,0.15 H-0.1 L-0.25,1 L0.7,-0.15 H0.1 Z"},"encoding":{"x":{"field":"d","type":"temporal","scale":{"type":"utc","nice":false,"domain":["2020-07-09T19:12:00Z","2025-05-16T05:00:00Z"]}},"y":{"field":"p","type":"quantitative","scale":{"domain":[-917,121726],"nice":false,"zero":false}}}}
]}
